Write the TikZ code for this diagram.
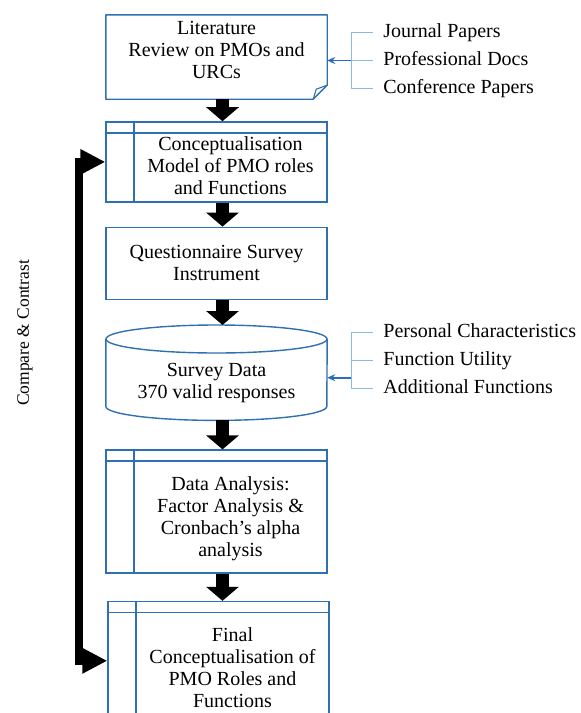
\documentclass[tikz,border=0pt]{standalone}
\usepackage{fontspec}
\setmainfont{Liberation Serif}
\usetikzlibrary{arrows.meta, positioning, calc}
\definecolor{boxBlue}{RGB}{47,112,178}
\definecolor{braceBlue}{RGB}{140,184,228}
\definecolor{srcBlue}{RGB}{40,110,190}

\begin{document}
\begin{tikzpicture}[
  font=\fontsize{20}{22}\selectfont,
  stagebox/.style={rectangle, draw=boxBlue, line width=1.4pt, minimum width=221pt, align=center},
  storebox/.style={stagebox, path picture={
      \draw[boxBlue, line width=1.4pt] ([yshift=-11pt]path picture bounding box.north west) -- ([yshift=-11pt]path picture bounding box.north east);
      \draw[boxBlue, line width=1.4pt] ([xshift=28pt]path picture bounding box.north west) -- ([xshift=28pt]path picture bounding box.south west);}},
  shellbox/.style={rectangle, minimum width=221pt},
  boxtext/.style={align=center},
  listitem/.style={inner sep=0pt, text height=13pt, text depth=4pt},
  outline/.style={draw=boxBlue, line width=1.4pt},
  flow/.style={draw=black, line width=13pt, -{Triangle[length=14pt, width=32pt]}},
  srcline/.style={draw=braceBlue, line width=1.1pt},
  srcarrow/.style={draw=srcBlue, line width=1.6pt, -{Stealth[length=8pt, width=7pt]}},
  loopline/.style={draw=black, line width=8pt, {Triangle[length=25pt, width=24pt]}-{Triangle[length=25pt, width=24pt]}}
]
  \useasboundingbox (0,0) rectangle (581pt,-713pt);
  \clip (0,0) rectangle (581pt,-713pt);

  % main column
  \node[shellbox, minimum height=84pt, label={[boxtext, yshift=7pt]center:{Literature\\Review on PMOs and\\URCs}}] (lit) at (216.5pt,-57pt) {};
  \node[storebox, minimum height=80pt, below=22pt of lit, label={[boxtext, xshift=14pt, yshift=-4pt]center:{Conceptualisation\\Model of PMO roles\\and Functions}}] (concept) {};
  \node[stagebox, minimum height=72pt, below=24pt of concept] (quest) {Questionnaire Survey\\Instrument};
  \node[shellbox, minimum height=95pt, below=25pt of quest, label={[boxtext, yshift=-10pt]center:{Survey Data\\370 valid responses}}] (data) {};
  \node[storebox, minimum height=123pt, below=29pt of data, label={[boxtext, xshift=14pt, yshift=-7pt]center:{Data Analysis:\\Factor Analysis \&\\Cronbach's alpha\\analysis}}] (analysis) {};
  \node[storebox, minimum height=125pt, below=27pt of analysis, xshift=2pt] (final) {};
  \node[boxtext] (finaltext) at ([xshift=14pt, yshift=-67pt]final.north) {Final\\Conceptualisation of\\PMO Roles and\\Functions};

  % document and drum outlines
  \draw[outline, line join=round] (lit.north west) -- (lit.north east) -- ([yshift=14pt]lit.south east) -- ([xshift=-14pt]lit.south east) -- (lit.south west) -- cycle;
  \draw[outline, line width=1.1pt, line join=round] ([xshift=-14pt]lit.south east) -- ([xshift=-11pt, yshift=10pt]lit.south east) -- ([yshift=14pt]lit.south east);
  \draw[outline] ([yshift=-14pt]data.north west) -- ([yshift=14pt]data.south west)
    arc[start angle=180, end angle=360, x radius=110.5pt, y radius=14pt] -- ([yshift=-14pt]data.north east);
  \draw[outline] ([yshift=-14pt]data.north) ellipse[x radius=110.5pt, y radius=14pt];

  % flow arrows
  \draw[flow] ([xshift=6pt]lit.south) -- ([xshift=6pt]concept.north);
  \draw[flow] ([xshift=6pt]concept.south) -- ([xshift=6pt]quest.north);
  \draw[flow] ([xshift=6pt]quest.south) -- ([xshift=6pt]data.north);
  \draw[flow] ([xshift=6pt]data.south) -- ([xshift=6pt]analysis.north);
  \draw[flow] ([xshift=6pt]analysis.south) -- ([xshift=4pt]final.north);

  % sources of the literature review
  \node[listitem, right=56pt of lit.east, yshift=-3.5pt] (pd) {Professional Docs};
  \node[listitem, anchor=west] (jp) at ([yshift=28pt]pd.west) {Journal Papers};
  \node[listitem, anchor=west] (cp) at ([yshift=-28pt]pd.west) {Conference Papers};
  \draw[srcline] ([xshift=-10pt]jp.west) -| ([xshift=-32pt]cp.west) -- ([xshift=-10pt]cp.west);
  \draw[srcline] ([xshift=-10pt]pd.west) -- ([xshift=-32pt]pd.west);
  \draw[srcarrow] ([xshift=-32pt]pd.west) -- (lit.east |- pd.west);

  % contents of the survey data
  \node[listitem, right=56pt of data.east, yshift=12pt] (fu) {Function Utility};
  \node[listitem, anchor=west] (pc) at ([yshift=28pt]fu.west) {Personal Characteristics};
  \node[listitem, anchor=west] (af) at ([yshift=-28pt]fu.west) {Additional Functions};
  \draw[srcline] ([xshift=-10pt]pc.west) -| ([xshift=-32pt]af.west) -- ([xshift=-10pt]af.west);
  \draw[srcline] ([xshift=-10pt]fu.west) -- ([xshift=-32pt]fu.west);
  \coordinate (svin) at ([xshift=-32pt, yshift=-17pt]fu.west);
  \draw[srcarrow] (svin) -- (svin -| data.east);

  % feedback loop
  \draw[loopline] (concept.west) -- ++(-26pt,0) |- ([yshift=-60pt]final.north west);
  \node[rotate=90, font=\fontsize{17.5}{20}\selectfont] (cmp) at (25pt,-333pt) {Compare \& Contrast};
\end{tikzpicture}
\end{document}
